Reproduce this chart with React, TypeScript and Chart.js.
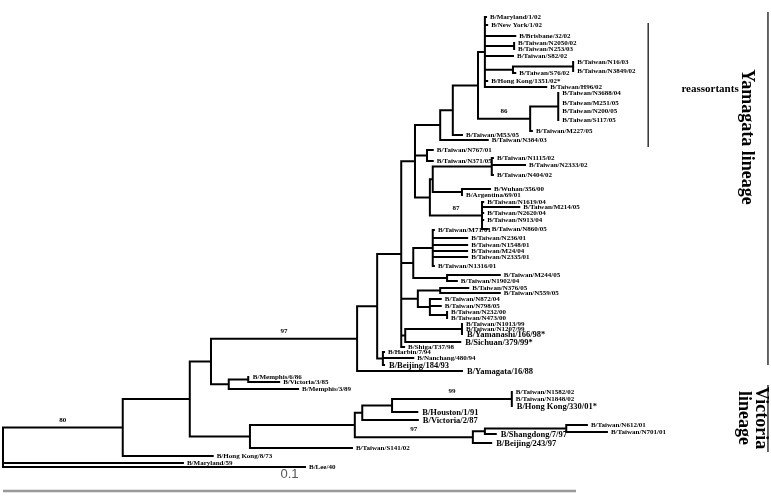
import React, { useEffect, useRef } from "react";
import { Chart, registerables } from "chart.js";

Chart.register(...registerables);

// ---- Tree data (distance from root in 10^-3 substitutions/site; scale bar 0.1 = 100 units) ----

// Internal nodes: id, depth (distance from root), parent
const nodeIds = [
  "root", "A", "B", "C", "Y", "Y2", "BJ", "Y3", "T", "N440", "N453", "N478", "RA", "N2050n", "Rn", "N16n",
  "N86", "N558", "NN", "V87", "W", "N1115n", "ARGn", "N87", "Q", "M71n", "M244n", "L1", "N376n", "L2",
  "N232n", "Z", "N1013n", "MEM", "MEMsub", "V", "F", "G", "H", "HK330n", "N97", "S1", "N612n",
];
const nodeDepths = [
  0, 20.9, 32.6, 36.3, 61.8, 65.3, 66.3, 69.5, 71.9, 76.3, 78.5, 82.9, 84.1, 89.2, 89.0, 99.5,
  92.0, 96.9, 74.0, 74.5, 75.0, 85.3, 80.1, 83.6, 71.6, 75.0, 77.5, 72.4, 76.3, 74.5,
  77.5, 70.2, 80.1, 39.4, 42.8, 43.1, 61.4, 62.7, 67.9, 88.8, 82.0, 84.1, 98.3,
];
const nodeParents = [
  "", "root", "A", "B", "C", "Y", "Y2", "Y2", "Y3", "T", "N440", "N453", "N478", "RA", "RA", "Rn",
  "N478", "N86", "T", "T", "V87", "W", "W", "V87", "Y3", "Q", "Q", "Y3", "L1", "L1",
  "L2", "Y3", "Z", "C", "MEM", "B", "V", "F", "G", "H", "F", "N97", "S1",
];

// Leaves (strains): name, depth, row (vertical order position), parent node
const leafNames = [
  "B/Maryland/1/02", "B/New York/1/02", "B/Brisbane/32/02", "B/Taiwan/N2050/02", "B/Taiwan/N253/03",
  "B/Taiwan/S82/02", "B/Taiwan/N16/03", "B/Taiwan/N3849/02", "B/Taiwan/S76/02", "B/Hong Kong/1351/02*",
  "B/Taiwan/H96/02", "B/Taiwan/N3688/04", "B/Taiwan/M251/05", "B/Taiwan/N200/05", "B/Taiwan/S117/05",
  "B/Taiwan/M227/05", "B/Taiwan/M53/05", "B/Taiwan/N384/03", "B/Taiwan/N767/01", "B/Taiwan/N371/05",
  "B/Taiwan/N1115/02", "B/Taiwan/N2333/02", "B/Taiwan/N404/02", "B/Wuhan/356/00", "B/Argentina/69/01",
  "B/Taiwan/N1619/04", "B/Taiwan/M214/05", "B/Taiwan/N2620/04", "B/Taiwan/N913/04", "B/Taiwan/N860/05",
  "B/Taiwan/M71/01", "B/Taiwan/N236/01", "B/Taiwan/N1548/01", "B/Taiwan/M24/04", "B/Taiwan/N2335/01",
  "B/Taiwan/N1316/01", "B/Taiwan/M244/05", "B/Taiwan/N1902/04", "B/Taiwan/N376/05", "B/Taiwan/N559/05",
  "B/Taiwan/N872/04", "B/Taiwan/N798/05", "B/Taiwan/N232/00", "B/Taiwan/N473/00", "B/Taiwan/N1013/99",
  "B/Taiwan/N1207/99", "B/Yamanashi/166/98*", "B/Sichuan/379/99*", "B/Shiga/T37/98", "B/Harbin/7/94",
  "B/Nanchang/480/94", "B/Beijing/184/93", "B/Yamagata/16/88", "B/Memphis/6/86", "B/Victoria/3/85",
  "B/Memphis/3/89", "B/Taiwan/N1582/02", "B/Taiwan/N1848/02", "B/Hong Kong/330/01*", "B/Houston/1/91",
  "B/Victoria/2/87", "B/Taiwan/N612/01", "B/Taiwan/N701/01", "B/Shangdong/7/97", "B/Beijing/243/97",
  "B/Taiwan/S141/02", "B/Hong Kong/8/73", "B/Maryland/59", "B/Lee/40",
];
const leafDepths = [
  84.3, 84.5, 89.4, 89.2, 89.2,
  89.0, 99.5, 99.5, 89.4, 84.5,
  94.8, 96.9, 96.9, 96.9, 96.9,
  92.3, 80.1, 84.6, 75.0, 75.0,
  85.5, 91.1, 85.5, 85.0, 80.1,
  83.8, 90.1, 83.8, 83.8, 84.6,
  75.2, 81.0, 81.0, 81.0, 81.0,
  75.2, 86.7, 79.2, 81.2, 86.7,
  76.4, 76.4, 77.5, 77.5, 80.1,
  80.1, 80.1, 79.8, 70.0, 66.5,
  71.6, 66.5, 80.1, 42.9, 48.2,
  51.5, 88.8, 88.8, 88.8, 72.3,
  72.4, 101.9, 105.4, 86.0, 85.2,
  60.9, 36.6, 31.4, 52.7,
];
const leafRows = [
  17, 25, 36, 43, 49,
  56, 62, 71, 73, 81,
  87, 93, 103, 111, 120,
  131, 135, 140, 150, 161,
  158, 165, 175, 189, 195,
  202, 207, 213, 220, 229,
  230, 238, 245, 251, 257,
  266, 275, 281, 288, 293,
  299, 306, 312, 318, 324,
  329, 334, 342, 347, 352,
  358, 365, 371, 377, 382,
  389, 392, 399, 406, 412,
  420, 425, 432, 434, 443,
  448, 456, 463, 467,
];
const leafParents = [
  "RA", "RA", "RA", "N2050n", "N2050n",
  "RA", "N16n", "N16n", "Rn", "RA",
  "RA", "N558", "N558", "N558", "N558",
  "N86", "N453", "N440", "NN", "NN",
  "N1115n", "N1115n", "N1115n", "ARGn", "ARGn",
  "N87", "N87", "N87", "N87", "N87",
  "M71n", "M71n", "M71n", "M71n", "M71n",
  "M71n", "M244n", "M244n", "N376n", "N376n",
  "L2", "L2", "N232n", "N232n", "N1013n",
  "N1013n", "N1013n", "Z", "Y3", "BJ",
  "BJ", "BJ", "Y", "MEMsub", "MEMsub",
  "MEM", "HK330n", "HK330n", "HK330n", "H",
  "G", "N612n", "N612n", "S1", "N97",
  "V", "A", "root", "root",
];

// Strains printed in the larger type
const emphasisedStrains = [
  "B/Yamanashi/166/98*", "B/Sichuan/379/99*", "B/Beijing/184/93", "B/Yamagata/16/88",
  "B/Hong Kong/330/01*", "B/Houston/1/91", "B/Victoria/2/87", "B/Shangdong/7/97", "B/Beijing/243/97",
];

// Bootstrap support values (placed on the branch leading to the node)
const bootstrapNodes = ["A", "Y", "HK330n", "N97", "N86", "N87"];
const bootstrapValues = [80, 97, 99, 97, 86, 87];

// Scale bar
const scaleBarLabel = "0.1";
const scaleBarLength = 100;
const scaleBarRow = 491;
const scaleLabelRow = 474;

// Annotation brackets
const groupLabels = ["reassortants", "Yamagata lineage", "Victoria\nlineage"];
const groupLineDepths = [112.6, 133.5, 133.5];
const groupFromRows = [23, 12, 385];
const groupToRows = [147, 365, 452];
const groupTextDepths = [118.4, 129.7, 130.8];
const groupTextRows = [89, 137, 418];

// Axis extents
const xMin = -0.52;
const xMax = 134.03;
const yMin = 0;
const yMax = 504;

const SERIF = '"Liberation Serif", "Times New Roman", serif';

// ---- Layout (computed from the tree tables) ----
function buildTree() {
  const depthOf: Record<string, number> = {};
  const rowOf: Record<string, number> = {};
  const parentOf: Record<string, string> = {};
  const children: Record<string, string[]> = {};
  nodeIds.forEach((id, i) => {
    depthOf[id] = nodeDepths[i];
    children[id] = [];
  });
  nodeIds.forEach((id, i) => {
    const p = nodeParents[i];
    if (p) {
      children[p].push(id);
      parentOf[id] = p;
    }
  });
  leafNames.forEach((n, i) => {
    depthOf[n] = leafDepths[i];
    rowOf[n] = leafRows[i];
    parentOf[n] = leafParents[i];
    children[leafParents[i]].push(n);
  });
  const yOf = (id: string): number => {
    if (rowOf[id] !== undefined) return rowOf[id];
    const ys = children[id].map(yOf);
    rowOf[id] = (Math.min(...ys) + Math.max(...ys)) / 2;
    return rowOf[id];
  };
  yOf("root");

  const segs: any[] = [];
  const gap = { x: null, y: null };
  const all = [...nodeIds, ...leafNames];
  all.forEach((id) => {
    const p = parentOf[id];
    if (!p) return;
    segs.push({ x: depthOf[p], y: rowOf[id] }, { x: depthOf[id], y: rowOf[id] }, gap);
  });
  nodeIds.forEach((id) => {
    const ys = children[id].map((c) => rowOf[c]);
    segs.push({ x: depthOf[id], y: Math.min(...ys) }, { x: depthOf[id], y: Math.max(...ys) }, gap);
  });
  return { depthOf, rowOf, parentOf, segs };
}

const tree = buildTree();

const labelPlugin = {
  id: "treeLabels",
  afterDatasetsDraw(chart: any) {
    const { ctx } = chart;
    const xs = chart.scales.x;
    const ys = chart.scales.y;
    ctx.save();
    ctx.fillStyle = "#000";
    ctx.textBaseline = "middle";
    ctx.textAlign = "left";
    leafNames.forEach((n, i) => {
      const big = emphasisedStrains.includes(n);
      ctx.font = `bold ${big ? 8.5 : 7}px ${SERIF}`;
      ctx.fillText(n, xs.getPixelForValue(leafDepths[i]) + (big ? 5 : 4), ys.getPixelForValue(leafRows[i]) + 0.5);
    });

    // bootstrap values
    ctx.font = `bold 7px ${SERIF}`;
    ctx.textAlign = "center";
    ctx.textBaseline = "bottom";
    bootstrapNodes.forEach((id, i) => {
      const p = tree.parentOf[id];
      const mid = (tree.depthOf[p] + tree.depthOf[id]) / 2;
      ctx.fillText(String(bootstrapValues[i]), xs.getPixelForValue(mid), ys.getPixelForValue(tree.rowOf[id]) - 4);
    });

    // scale label
    ctx.font = `13px "Liberation Sans", Arial, sans-serif`;
    ctx.fillStyle = "#555";
    ctx.textBaseline = "middle";
    ctx.fillText(scaleBarLabel, xs.getPixelForValue(scaleBarLength / 2), ys.getPixelForValue(scaleLabelRow));

    // group labels
    ctx.fillStyle = "#000";
    groupLabels.forEach((label, i) => {
      const px = xs.getPixelForValue(groupTextDepths[i]);
      const py = ys.getPixelForValue(groupTextRows[i]);
      if (i === 0) {
        ctx.font = `bold 11px ${SERIF}`;
        ctx.textAlign = "left";
        ctx.textBaseline = "middle";
        ctx.fillText(label, px, py);
      } else {
        ctx.font = `bold 18px ${SERIF}`;
        ctx.textAlign = "center";
        ctx.textBaseline = "middle";
        const lines = label.split("\n");
        ctx.save();
        ctx.translate(px, py);
        ctx.rotate(Math.PI / 2);
        lines.forEach((ln, k) => {
          const off = (k - (lines.length - 1) / 2) * 17;
          ctx.fillText(ln, 0, off);
        });
        ctx.restore();
      }
    });
    ctx.restore();
  },
};

export default function App() {
  const ref = useRef<HTMLCanvasElement | null>(null);
  useEffect(() => {
    if (!ref.current) return;
    const groupLines: any[] = [];
    groupLabels.forEach((_, i) => {
      groupLines.push(
        { x: groupLineDepths[i], y: groupFromRows[i] },
        { x: groupLineDepths[i], y: groupToRows[i] },
        { x: null, y: null }
      );
    });
    const chart = new Chart(ref.current, {
      type: "scatter",
      data: {
        datasets: [
          {
            label: "branches",
            data: tree.segs,
            showLine: true,
            spanGaps: false,
            borderColor: "#000",
            borderWidth: 2,
            borderCapStyle: "square",
            pointRadius: 0,
            pointHoverRadius: 0,
            tension: 0,
          } as any,
          {
            label: "scale",
            data: [
              { x: 0, y: scaleBarRow },
              { x: scaleBarLength, y: scaleBarRow },
            ],
            showLine: true,
            borderColor: "#999",
            borderWidth: 2.5,
            pointRadius: 0,
            pointHoverRadius: 0,
          } as any,
          {
            label: "groups",
            data: groupLines,
            showLine: true,
            spanGaps: false,
            borderColor: "#333",
            borderWidth: 1.5,
            pointRadius: 0,
            pointHoverRadius: 0,
          } as any,
        ],
      },
      options: {
        responsive: false,
        maintainAspectRatio: false,
        animation: false,
        events: [],
        layout: { padding: 0 },
        plugins: { legend: { display: false }, tooltip: { enabled: false } },
        scales: {
          x: { type: "linear", display: false, min: xMin, max: xMax },
          y: { type: "linear", display: false, min: yMin, max: yMax, reverse: true },
        },
      },
      plugins: [labelPlugin],
    });
    return () => chart.destroy();
  }, []);
  return (
    <div style={{ position: "absolute", left: 0, top: 0, width: 771, height: 504, background: "#fff" }}>
      <canvas ref={ref} width={771} height={504} style={{ display: "block" }} />
    </div>
  );
}
